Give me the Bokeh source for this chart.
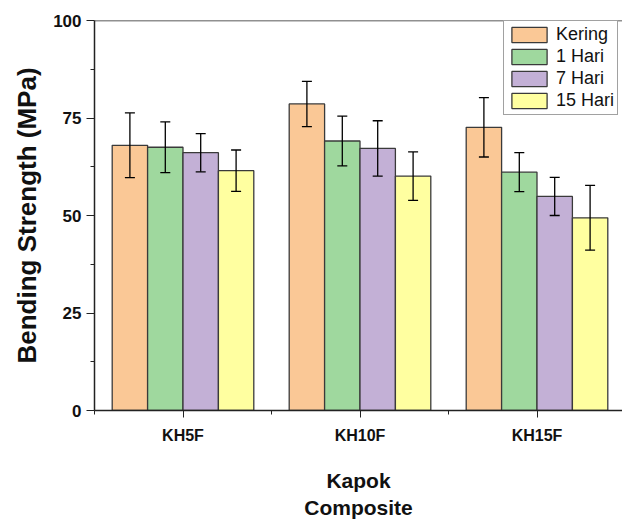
import numpy as np
from bokeh.plotting import figure
from bokeh.models import (ColumnDataSource, Range1d, FixedTicker, Whisker, TeeHead, Span)
from bokeh.embed import file_html
from bokeh.resources import INLINE

categories = ["KH5F", "KH10F", "KH15F"]
series = ["Kering", "1 Hari", "7 Hari", "15 Hari"]
kering = [68.0, 78.6, 72.6]
kering_err = [8.3, 5.8, 7.6]
hari1 = [67.5, 69.1, 61.1]
hari1_err = [6.5, 6.4, 5.0]
hari7 = [66.1, 67.2, 54.9]
hari7_err = [4.9, 7.1, 4.9]
hari15 = [61.5, 60.1, 49.4]
hari15_err = [5.3, 6.2, 8.3]
y_ticks = [0, 25, 50, 75, 100]

values = [kering, hari1, hari7, hari15]
errors = [kering_err, hari1_err, hari7_err, hari15_err]
colors = ["#FAC896", "#9FD89E", "#C3B0D6", "#FFFFA0"]
bar_w = 0.2
offsets = [-0.3, -0.1, 0.1, 0.3]
FONT = "Liberation Sans"
INK = "#111111"

p = figure(width=622, height=524, output_backend="svg", toolbar_location=None,
           x_range=Range1d(0.5, 0.5 + 528 / 177), y_range=Range1d(0, 100),
           min_border_left=94, min_border_right=0, min_border_top=20,
           min_border_bottom=114)
p.outline_line_color = None
p.xgrid.visible = False
p.ygrid.visible = False

base = np.arange(1, len(categories) + 1)
for vals, errs, col, off, name in zip(values, errors, colors, offsets, series):
    x = base + off
    v = np.array(vals)
    e = np.array(errs)
    src = ColumnDataSource(dict(x=x, top=v, upper=v + e, lower=v - e))
    p.vbar(x="x", top="top", width=bar_w, source=src, fill_color=col,
           line_color="#3a3a3a", line_width=1.3, legend_label=name)
    w = Whisker(source=src, base="x", upper="upper", lower="lower",
                line_color="black", line_width=1.3, level="overlay",
                upper_head=TeeHead(size=10, line_color="black", line_width=1.3),
                lower_head=TeeHead(size=10, line_color="black", line_width=1.3))
    p.add_layout(w)

p.add_layout(Span(location=100, dimension="width", line_color="#222222", line_width=1.5))

# Y axis
ya = p.yaxis[0]
ya.ticker = FixedTicker(ticks=y_ticks, minor_ticks=[12.5, 37.5, 62.5, 87.5])
ya.axis_label = "Bending Strength (MPa)"
ya.axis_label_text_font = FONT
ya.axis_label_text_font_style = "bold"
ya.axis_label_text_font_size = "26px"
ya.axis_label_text_color = INK
ya.axis_label_standoff = 8
ya.major_label_text_font = FONT
ya.major_label_text_font_style = "bold"
ya.major_label_text_font_size = "17px"
ya.major_label_text_color = INK
ya.major_label_standoff = 5
ya.major_tick_out = 8
ya.major_tick_in = 0
ya.minor_tick_out = 4
ya.minor_tick_in = 0
ya.axis_line_width = 1.5
ya.axis_line_color = "#222222"
ya.major_tick_line_color = "#222222"
ya.minor_tick_line_color = "#222222"

# X axis
xa = p.xaxis[0]
xa.ticker = FixedTicker(ticks=list(base), minor_ticks=[0.5, 1.5, 2.5, 3.5])
xa.major_label_overrides = {int(i): c for i, c in zip(base, categories)}
xa.axis_label = "Kapok\nComposite"
xa.axis_label_text_font = FONT
xa.axis_label_text_font_style = "bold"
xa.axis_label_text_font_size = "21px"
xa.axis_label_text_color = INK
xa.axis_label_standoff = 22
xa.major_label_text_font = FONT
xa.major_label_text_font_style = "bold"
xa.major_label_text_font_size = "16px"
xa.major_label_text_color = INK
xa.major_label_standoff = 9
xa.major_tick_out = 7
xa.major_tick_in = 0
xa.minor_tick_out = 4
xa.minor_tick_in = 0
xa.axis_line_width = 1.5
xa.axis_line_color = "#222222"
xa.major_tick_line_color = "#222222"
xa.minor_tick_line_color = "#222222"

lg = p.legend[0]
lg.location = (409, 295)
lg.label_text_font = FONT
lg.label_text_font_size = "18px"
lg.label_text_color = INK
lg.glyph_width = 44
lg.glyph_height = 19
lg.label_height = 19
lg.spacing = 1
lg.padding = 3
lg.margin = 0
lg.label_standoff = 5
lg.border_line_color = "#444444"
lg.border_line_width = 1.2
lg.background_fill_alpha = 1

open("out.html", "w").write(file_html(p, INLINE))
